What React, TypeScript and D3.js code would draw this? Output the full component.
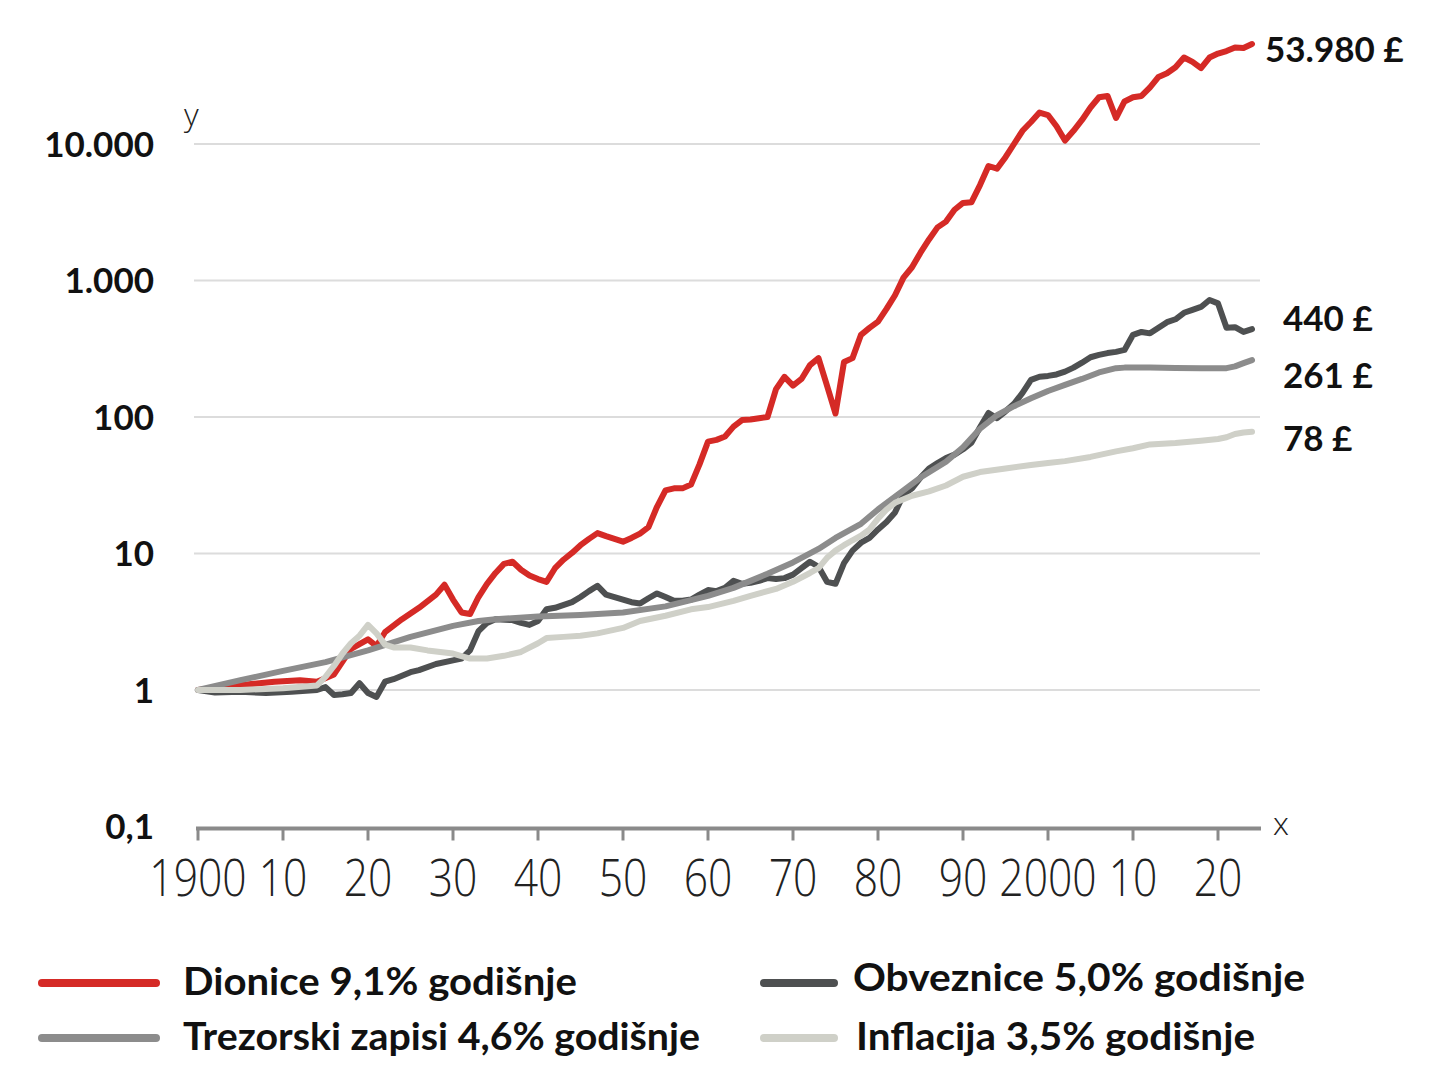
import React from 'react';
import * as d3 from 'd3';

// [year, value of 1 £ invested in 1900]
const dionice: [number, number][] = [
  [1900, 1.0], [1903, 1.05], [1906, 1.1], [1909, 1.15], [1912, 1.18], [1914, 1.15], [1916, 1.3],
  [1918, 2.0], [1920, 2.35], [1921, 2.1], [1922, 2.65], [1924, 3.3], [1926, 4.0], [1928, 5.0],
  [1929, 5.9], [1930, 4.6], [1931, 3.7], [1932, 3.6], [1933, 4.8], [1934, 6.0], [1935, 7.2],
  [1936, 8.4], [1937, 8.7], [1938, 7.6], [1939, 6.9], [1940, 6.5], [1941, 6.2], [1942, 7.8],
  [1943, 9.0], [1944, 10.1], [1945, 11.5], [1946, 12.8], [1947, 14.1], [1948, 13.4], [1949, 12.8],
  [1950, 12.2], [1951, 13.0], [1952, 14.0], [1953, 15.6], [1954, 22], [1955, 29], [1956, 30],
  [1957, 30], [1958, 32], [1959, 45], [1960, 66], [1961, 68], [1962, 72], [1963, 85], [1964, 95],
  [1965, 96], [1966, 98], [1967, 100], [1968, 160], [1969, 197], [1970, 170], [1971, 190],
  [1972, 240], [1973, 270], [1974, 170], [1975, 106], [1976, 253], [1977, 270], [1978, 400],
  [1979, 450], [1980, 500], [1981, 620], [1982, 780], [1983, 1050], [1984, 1250], [1985, 1600],
  [1986, 2000], [1987, 2450], [1988, 2700], [1989, 3300], [1990, 3700], [1991, 3750], [1992, 5000],
  [1993, 6900], [1994, 6600], [1995, 8000], [1996, 10000], [1997, 12500], [1998, 14500],
  [1999, 17000], [2000, 16300], [2001, 13500], [2002, 10600], [2003, 12500], [2004, 15000],
  [2005, 18500], [2006, 22000], [2007, 22500], [2008, 15500], [2009, 20500], [2010, 22000],
  [2011, 22500], [2012, 26000], [2013, 31000], [2014, 33000], [2015, 36500], [2016, 43000],
  [2017, 40000], [2018, 36000], [2019, 43000], [2020, 46000], [2021, 48000], [2022, 51000],
  [2023, 50500], [2024, 53980],
];

const obveznice: [number, number][] = [
  [1900, 1.0], [1902, 0.96], [1905, 0.97], [1908, 0.95], [1911, 0.97], [1914, 1.0], [1915, 1.05],
  [1916, 0.92], [1917, 0.93], [1918, 0.95], [1919, 1.12], [1920, 0.95], [1921, 0.89], [1922, 1.15],
  [1923, 1.2], [1925, 1.35], [1926, 1.4], [1928, 1.55], [1930, 1.65], [1931, 1.7], [1932, 1.95],
  [1933, 2.7], [1934, 3.1], [1935, 3.3], [1937, 3.25], [1938, 3.1], [1939, 3.0], [1940, 3.2],
  [1941, 3.9], [1942, 4.0], [1944, 4.4], [1945, 4.8], [1946, 5.3], [1947, 5.8], [1948, 5.0],
  [1949, 4.8], [1950, 4.6], [1951, 4.4], [1952, 4.3], [1953, 4.7], [1954, 5.1], [1955, 4.8],
  [1956, 4.5], [1957, 4.5], [1958, 4.6], [1959, 5.0], [1960, 5.4], [1961, 5.3], [1962, 5.6],
  [1963, 6.3], [1964, 6.0], [1965, 6.1], [1966, 6.3], [1967, 6.6], [1968, 6.5], [1969, 6.6],
  [1970, 7.0], [1971, 7.8], [1972, 8.7], [1973, 8.0], [1974, 6.2], [1975, 6.0], [1976, 8.5],
  [1977, 10.5], [1978, 12], [1979, 13], [1980, 15], [1981, 17], [1982, 20], [1983, 27], [1984, 30],
  [1985, 36], [1986, 42], [1987, 46], [1988, 50], [1989, 53], [1990, 58], [1991, 65], [1992, 84],
  [1993, 107], [1994, 98], [1995, 110], [1996, 125], [1997, 150], [1998, 187], [1999, 197],
  [2000, 200], [2001, 205], [2002, 215], [2003, 230], [2004, 250], [2005, 274], [2006, 285],
  [2007, 294], [2008, 300], [2009, 310], [2010, 400], [2011, 420], [2012, 410], [2013, 450],
  [2014, 495], [2015, 520], [2016, 580], [2017, 610], [2018, 640], [2019, 720], [2020, 680],
  [2021, 450], [2022, 455], [2023, 420], [2024, 440],
];

const trezorski: [number, number][] = [
  [1900, 1.0], [1905, 1.18], [1910, 1.38], [1915, 1.6], [1920, 1.95], [1925, 2.45], [1930, 2.95],
  [1933, 3.2], [1935, 3.3], [1940, 3.45], [1945, 3.55], [1950, 3.7], [1955, 4.1], [1960, 4.9],
  [1963, 5.6], [1965, 6.3], [1967, 7.1], [1970, 8.6], [1973, 10.8], [1975, 13], [1978, 16.5],
  [1980, 21], [1983, 29], [1985, 36], [1988, 47], [1990, 60], [1992, 82], [1994, 103], [1996, 120],
  [1998, 137], [2000, 155], [2002, 172], [2004, 190], [2006, 212], [2008, 228], [2009, 230],
  [2012, 230], [2015, 229], [2018, 228], [2021, 228], [2022, 235], [2023, 248], [2024, 261],
];

const inflacija: [number, number][] = [
  [1900, 1.0], [1905, 1.0], [1910, 1.03], [1914, 1.08], [1915, 1.25], [1916, 1.5], [1917, 1.85],
  [1918, 2.2], [1919, 2.5], [1920, 3.0], [1921, 2.6], [1922, 2.15], [1923, 2.05], [1925, 2.05],
  [1927, 1.95], [1930, 1.85], [1932, 1.7], [1934, 1.7], [1936, 1.78], [1938, 1.9], [1940, 2.2],
  [1941, 2.4], [1943, 2.45], [1945, 2.5], [1947, 2.6], [1950, 2.85], [1952, 3.2], [1955, 3.5],
  [1958, 3.9], [1960, 4.05], [1963, 4.5], [1965, 4.9], [1968, 5.5], [1970, 6.2], [1972, 7.2],
  [1973, 7.8], [1974, 9.3], [1975, 10.5], [1976, 11.5], [1977, 12.5], [1978, 13.5], [1979, 15],
  [1980, 18], [1981, 21], [1982, 23.5], [1984, 26.5], [1986, 28.5], [1988, 31.5], [1990, 36.5],
  [1992, 39.5], [1995, 42], [1998, 44.5], [2000, 46], [2002, 47.5], [2005, 51], [2008, 56],
  [2010, 59], [2012, 63], [2015, 64.5], [2018, 67], [2020, 69], [2021, 71], [2022, 75], [2023, 77],
  [2024, 78],
];

const yTicks = [0.1, 1, 10, 100, 1000, 10000];
const yTickLabels = ['0,1', '1', '10', '100', '1.000', '10.000'];
const gridValues = [1, 10, 100, 1000, 10000];
const xTicks = [1900, 1910, 1920, 1930, 1940, 1950, 1960, 1970, 1980, 1990, 2000, 2010, 2020];
const xTickLabels = ['1900', '10', '20', '30', '40', '50', '60', '70', '80', '90', '2000', '10', '20'];

const endLabels = [
  { text: '53.980 £', x: 1265, y: 49 },
  { text: '440 £', x: 1283, y: 318 },
  { text: '261 £', x: 1283, y: 375 },
  { text: '78 £', x: 1283, y: 438 },
];

// drawn bottom to top
const series = [
  { name: 'Dionice 9,1% godišnje', data: dionice, color: '#d52a26' },
  { name: 'Obveznice 5,0% godišnje', data: obveznice, color: '#4e5051' },
  { name: 'Trezorski zapisi 4,6% godišnje', data: trezorski, color: '#8c8c8c' },
  { name: 'Inflacija 3,5% godišnje', data: inflacija, color: '#cfd0c8' },
];

const legendItems = [
  { label: 'Dionice 9,1% godišnje', color: '#d52a26', x1: 42, x2: 156, ly: 983, tx: 183, ty: 981, w: 394 },
  { label: 'Trezorski zapisi 4,6% godišnje', color: '#8c8c8c', x1: 42, x2: 156, ly: 1038, tx: 183, ty: 1036, w: 517 },
  { label: 'Obveznice 5,0% godišnje', color: '#4e5051', x1: 764, x2: 834, ly: 983, tx: 853, ty: 977, w: 452 },
  { label: 'Inflacija 3,5% godišnje', color: '#cfd0c8', x1: 764, x2: 834, ly: 1038, tx: 856, ty: 1036, w: 399 },
];

const W = 1440;
const H = 1080;

export default function App() {
  const x = d3.scaleLinear().domain([1900, 2025]).range([198, 1260.5]);
  const y = d3.scaleLog().domain([0.1, 100000]).range([826.5, 7.5]);

  const line = d3
    .line<[number, number]>()
    .x((d) => x(d[0]))
    .y((d) => y(d[1]));

  const axisY = y(0.1) + 2;
  const boldFont = 'Lato, "Open Sans", sans-serif';
  const thinFont = '"Open Sans", sans-serif';

  return (
    <svg
      width={W}
      height={H}
      viewBox={`0 0 ${W} ${H}`}
      style={{ position: 'absolute', left: 0, top: 0, background: '#fff' }}
    >
      <rect x={0} y={0} width={W} height={H} fill="#fff" />

      {/* grid */}
      {gridValues.map((v) => (
        <line key={v} x1={194} x2={1260} y1={y(v)} y2={y(v)} stroke="#dcdcdc" strokeWidth={2} />
      ))}

      {/* y labels */}
      {yTicks.map((v, i) => (
        <text
          key={v}
          x={154}
          y={y(v)}
          dy="0.36em"
          textAnchor="end"
          fontFamily={boldFont}
          fontWeight={700}
          fontSize={35}
          fill="#111"
        >
          {yTickLabels[i]}
        </text>
      ))}
      <text x={184} y={126} fontFamily={thinFont} fontWeight={300} fontSize={32} fill="#222">
        y
      </text>

      {/* x axis */}
      <line x1={196} x2={1261} y1={axisY} y2={axisY} stroke="#8a8a8a" strokeWidth={4} />
      {xTicks.map((t, i) => (
        <g key={t}>
          <line x1={x(t)} x2={x(t)} y1={axisY} y2={axisY + 12} stroke="#8a8a8a" strokeWidth={3} />
          <text
            transform={`translate(${x(t)},${896}) scale(0.82,1)`}
            textAnchor="middle"
            fontFamily={thinFont}
            fontWeight={300}
            fontSize={52}
            fill="#222"
          >
            {xTickLabels[i]}
          </text>
        </g>
      ))}
      <text x={1273} y={835} fontFamily={thinFont} fontWeight={300} fontSize={32} fill="#222">
        x
      </text>

      {/* series */}
      {series.map((s) => (
        <path
          key={s.name}
          d={line(s.data) ?? ''}
          fill="none"
          stroke={s.color}
          strokeWidth={6}
          strokeLinejoin="round"
          strokeLinecap="round"
        />
      ))}

      {/* end values */}
      {endLabels.map((l) => (
        <text
          key={l.text}
          x={l.x}
          y={l.y}
          dy="0.36em"
          fontFamily={boldFont}
          fontWeight={700}
          fontSize={35}
          fill="#111"
        >
          {l.text}
        </text>
      ))}

      {/* legend */}
      {legendItems.map((l) => (
        <g key={l.label}>
          <line x1={l.x1} x2={l.x2} y1={l.ly} y2={l.ly} stroke={l.color} strokeWidth={8} strokeLinecap="round" />
          <text
            x={l.tx}
            y={l.ty}
            dy="0.36em"
            fontFamily={boldFont}
            fontWeight={700}
            fontSize={38}
            textLength={l.w}
            lengthAdjust="spacingAndGlyphs"
            fill="#111"
          >
            {l.label}
          </text>
        </g>
      ))}
    </svg>
  );
}
